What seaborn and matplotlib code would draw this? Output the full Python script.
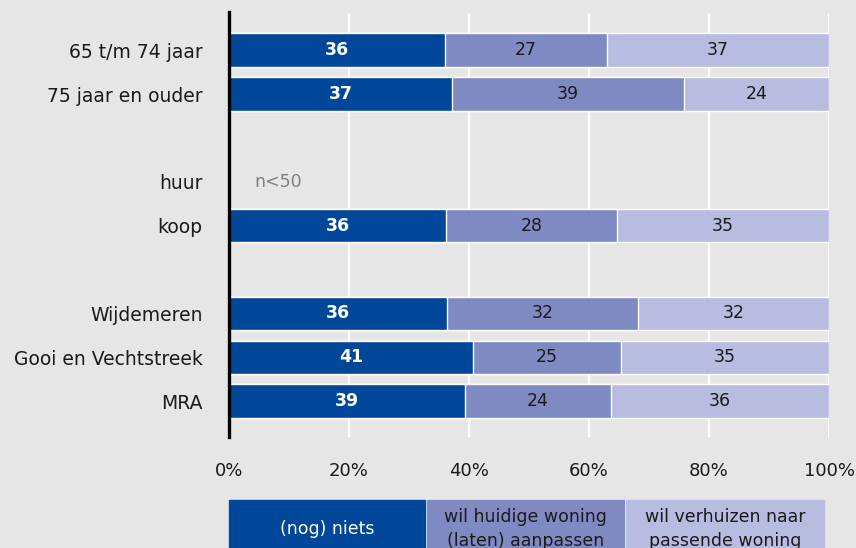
import pandas as pd
import matplotlib.pyplot as plt
import seaborn as sns
from matplotlib.patches import Rectangle

# --- data (percentages) ---
rows = ["65 t/m 74 jaar", "75 jaar en ouder", "", "huur", "koop", " ",
        "Wijdemeren", "Gooi en Vechtstreek", "MRA"]
groups = ["65 t/m 74 jaar", "75 jaar en ouder", "koop",
          "Wijdemeren", "Gooi en Vechtstreek", "MRA"]
niets = [36.0, 37.2, 36.2, 36.3, 40.7, 39.3]
aanpassen = [27.0, 38.6, 28.4, 31.8, 24.6, 24.3]
verhuizen = [37.0, 24.2, 35.4, 31.9, 34.7, 36.4]
legend_labels = ["(nog) niets", "wil huidige woning\n(laten) aanpassen",
                 "wil verhuizen naar\npassende woning"]
x_ticks = [0, 20, 40, 60, 80, 100]
small_n = "huur"

colors = ["#00479a", "#7f8ac3", "#b8bce0"]
bg = "#e6e6e6"
txt = "#1a1a1a"

df = pd.DataFrame({"groep": groups, "niets": niets,
                   "aanpassen": aanpassen, "verhuizen": verhuizen})
df["cum1"] = df["niets"]
df["cum2"] = df["niets"] + df["aanpassen"]
df["cum3"] = df["cum2"] + df["verhuizen"]

sns.set_style("white")
plt.rcParams["font.family"] = ["DejaVu Sans"]

fig = plt.figure(figsize=(8.56, 5.48), dpi=100, facecolor=bg)
ax = fig.add_axes([229 / 856, 1 - 437 / 548, 600 / 856, 425 / 548])
ax.set_facecolor(bg)

# stacked bars: draw cumulative totals from back to front
for col, c in zip(["cum3", "cum2", "cum1"], colors[::-1]):
    sns.barplot(data=df, x=col, y="groep", order=rows, color=c,
                width=0.76, orient="h", ax=ax, saturation=1, zorder=2)

ax.set_xlim(0, 100)
ax.set_ylim(8.82, -0.87)
ax.set_xlabel("")
ax.set_ylabel("")
ax.set_xticks(x_ticks)
ax.set_xticklabels([f"{t}%" for t in x_ticks])
ax.tick_params(axis="x", length=0, pad=18, labelsize=13, labelcolor=txt)
ax.tick_params(axis="y", length=0, pad=19, labelsize=13.5, labelcolor=txt)

for t in x_ticks[1:]:
    ax.plot([t, t], [8.82, -0.82], color="white", lw=1.6, zorder=1)
for s in ["top", "right", "bottom"]:
    ax.spines[s].set_visible(False)
ax.spines["left"].set_color("black")
ax.spines["left"].set_linewidth(2.4)
ax.spines["left"].set_zorder(5)

# value labels
for i, r in df.iterrows():
    y = rows.index(r["groep"])
    ax.text(r["niets"] / 2, y, f"{r['niets']:.0f}", ha="center", va="center",
            color="white", fontsize=12.5, fontweight="bold", zorder=4)
    ax.text(r["cum1"] + r["aanpassen"] / 2, y, f"{r['aanpassen']:.0f}",
            ha="center", va="center", color=txt, fontsize=12.5, zorder=4)
    ax.text(r["cum2"] + r["verhuizen"] / 2, y, f"{r['verhuizen']:.0f}",
            ha="center", va="center", color=txt, fontsize=12.5, zorder=4)

ax.text(4.2, rows.index(small_n), "n<50", ha="left", va="center",
        color="#808080", fontsize=12.5)

# legend as coloured boxes under the chart
lax = fig.add_axes([229 / 856, -12 / 548, 595 / 856, 60 / 548])
lax.set_xlim(0, 595)
lax.set_ylim(0, 60)
lax.axis("off")
lax.add_patch(Rectangle((0, 0), 595, 60, color="white", clip_on=False))
box_x = [0, 198, 397]
box_w = [196, 197, 198]
for bx, bw, c, lab, tc in zip(box_x, box_w, colors, legend_labels,
                              ["white", txt, txt]):
    lax.add_patch(Rectangle((bx, 0), bw, 60, color=c, clip_on=False))
    lax.text(bx + bw / 2, 31, lab, ha="center", va="center", color=tc,
             fontsize=12.5, linespacing=1.4)

fig.savefig("out.png", dpi=100, facecolor=bg)
